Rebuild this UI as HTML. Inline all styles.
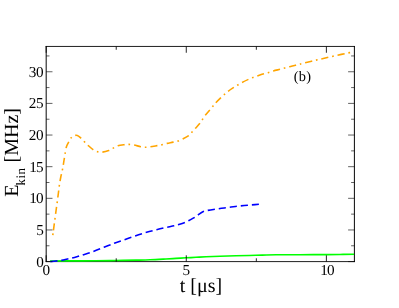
<!DOCTYPE html>
<html><head><meta charset="utf-8"><title>E_kin vs t (b)</title>
<style>
html,body{margin:0;padding:0;background:#fff;}
body{width:399px;height:308px;overflow:hidden;position:relative;font-family:"Liberation Serif",serif;}
svg{display:block}
</style></head><body>
<svg width="399" height="308" viewBox="0 0 399 308" style="position:absolute;left:0;top:0">
<rect width="399" height="308" fill="#fff"/>
<filter id="gs" x="0" y="0" width="399" height="308" filterUnits="userSpaceOnUse" color-interpolation-filters="sRGB"><feColorMatrix type="saturate" values="0"/></filter>
<path d="M46.18,46.00 V262.05 M354.40,46.00 V262.05" stroke="#000" fill="none" stroke-width="0.98"/>
<path d="M45.69,46.45 H354.89 M45.69,261.60 H354.89" stroke="#000" fill="none" stroke-width="0.88"/>
<clipPath id="c"><rect x="46.18" y="46.45" width="307.87" height="216.35"/></clipPath>
<g clip-path="url(#c)" fill="none" stroke-linejoin="round">
<path d="M50.00,260.95 C53.33,260.94 62.33,260.93 70.00,260.90 C77.67,260.87 88.33,260.82 96.00,260.75 C103.67,260.68 109.33,260.60 116.00,260.50 C122.67,260.40 130.33,260.27 136.00,260.15 C141.67,260.03 145.00,259.99 150.00,259.80 C155.00,259.61 161.67,259.23 166.00,259.00 C170.33,258.77 172.67,258.60 176.00,258.40 C179.33,258.20 182.67,257.98 186.00,257.80 C189.33,257.62 192.67,257.47 196.00,257.30 C199.33,257.13 202.00,256.97 206.00,256.80 C210.00,256.63 215.00,256.47 220.00,256.30 C225.00,256.13 230.00,255.97 236.00,255.80 C242.00,255.63 249.33,255.47 256.00,255.30 C262.67,255.13 268.67,254.90 276.00,254.80 C283.33,254.70 292.67,254.73 300.00,254.70 C307.33,254.67 313.33,254.64 320.00,254.60 C326.67,254.56 334.17,254.52 340.00,254.45 C345.83,254.38 352.50,254.24 355.00,254.20" stroke="#00ff00" stroke-width="1.65"/>
<path d="M50.20,261.60 C51.38,261.48 55.50,261.10 57.30,260.90 C59.10,260.70 59.12,260.75 61.00,260.40 C62.88,260.05 66.82,259.17 68.60,258.80 C70.38,258.43 69.93,258.67 71.70,258.20 C73.47,257.73 77.43,256.53 79.20,256.00 C80.97,255.47 80.52,255.53 82.30,255.00 C84.08,254.47 88.08,253.38 89.90,252.80 C91.72,252.22 91.47,252.18 93.20,251.50 C94.93,250.82 98.50,249.42 100.30,248.70 C102.10,247.98 102.13,247.93 104.00,247.20 C105.87,246.47 109.67,245.00 111.50,244.30 C113.33,243.60 113.45,243.55 115.00,243.00 C116.55,242.45 119.27,241.53 120.80,241.00 C122.33,240.47 122.45,240.42 124.20,239.80 C125.95,239.18 129.50,237.92 131.30,237.30 C133.10,236.68 133.17,236.72 135.00,236.10 C136.83,235.48 140.53,234.18 142.30,233.60 C144.07,233.02 143.85,233.10 145.60,232.60 C147.35,232.10 150.98,231.08 152.80,230.60 C154.62,230.12 154.70,230.13 156.50,229.70 C158.30,229.27 161.78,228.42 163.60,228.00 C165.42,227.58 165.65,227.57 167.40,227.20 C169.15,226.83 172.42,226.18 174.10,225.80 C175.78,225.42 175.68,225.45 177.50,224.90 C179.32,224.35 183.20,223.17 185.00,222.50 C186.80,221.83 186.67,221.77 188.30,220.90 C189.93,220.03 193.22,218.28 194.80,217.30 C196.38,216.32 196.30,216.00 197.80,215.00 C199.30,214.00 202.17,212.07 203.80,211.30 C205.43,210.53 205.72,210.75 207.60,210.40 C209.48,210.05 213.22,209.48 215.10,209.20 C216.98,208.92 217.12,208.95 218.90,208.70 C220.68,208.45 224.02,207.93 225.80,207.70 C227.58,207.47 227.77,207.53 229.60,207.30 C231.43,207.07 234.97,206.53 236.80,206.30 C238.63,206.07 238.77,206.08 240.60,205.90 C242.43,205.72 245.93,205.37 247.80,205.20 C249.67,205.03 249.95,205.05 251.80,204.90 C253.65,204.75 257.72,204.40 258.90,204.30" stroke="#0000ff" stroke-width="1.6" stroke-dasharray="7.1 4.01" stroke-dashoffset="-0.17"/>
<path d="M52.93,234.25 C53.11,232.88 53.64,228.74 54.00,226.00 C54.36,223.26 54.73,220.55 55.10,217.80 C55.47,215.05 55.83,212.20 56.20,209.50 C56.57,206.80 56.93,204.35 57.30,201.60 C57.67,198.85 58.05,195.77 58.40,193.00 C58.75,190.23 59.00,187.67 59.40,185.00 C59.80,182.33 60.27,179.68 60.80,177.00 C61.33,174.32 62.08,171.57 62.60,168.90 C63.12,166.23 63.45,163.75 63.90,161.00 C64.35,158.25 64.85,154.87 65.30,152.40 C65.75,149.93 65.97,148.03 66.60,146.20 C67.23,144.37 68.27,142.90 69.10,141.40 C69.93,139.90 70.82,138.13 71.60,137.20 C72.38,136.27 73.03,136.12 73.80,135.80 C74.57,135.48 75.42,135.25 76.20,135.30 C76.98,135.35 77.75,135.67 78.50,136.10 C79.25,136.53 79.70,136.93 80.70,137.90 C81.70,138.87 83.28,140.67 84.50,141.90 C85.72,143.13 86.57,144.02 88.00,145.30 C89.43,146.58 91.50,148.53 93.10,149.60 C94.70,150.67 96.10,151.27 97.60,151.70 C99.10,152.13 100.25,152.38 102.10,152.20 C103.95,152.02 106.85,151.28 108.70,150.60 C110.55,149.92 111.68,148.90 113.20,148.10 C114.72,147.30 115.97,146.37 117.80,145.80 C119.63,145.23 122.33,144.93 124.20,144.70 C126.07,144.47 127.35,144.35 129.00,144.40 C130.65,144.45 132.15,144.62 134.10,145.00 C136.05,145.38 138.80,146.33 140.70,146.70 C142.60,147.07 143.92,147.18 145.50,147.20 C147.08,147.22 148.27,147.07 150.20,146.80 C152.13,146.53 155.13,145.95 157.10,145.60 C159.07,145.25 160.33,145.07 162.00,144.70 C163.67,144.33 165.25,143.83 167.10,143.40 C168.95,142.97 171.25,142.52 173.10,142.10 C174.95,141.68 176.58,141.42 178.20,140.90 C179.82,140.38 181.05,139.87 182.80,139.00 C184.55,138.13 187.15,136.87 188.70,135.70 C190.25,134.53 190.97,133.25 192.10,132.00 C193.23,130.75 194.23,129.60 195.50,128.20 C196.77,126.80 198.52,125.10 199.70,123.60 C200.88,122.10 201.68,120.57 202.60,119.20 C203.52,117.83 203.97,116.97 205.20,115.40 C206.43,113.83 208.68,111.38 210.00,109.80 C211.32,108.22 212.18,107.03 213.10,105.90 C214.02,104.77 214.13,104.45 215.50,103.00 C216.87,101.55 219.75,98.67 221.30,97.20 C222.85,95.73 223.67,95.18 224.80,94.20 C225.93,93.22 226.73,92.35 228.10,91.30 C229.47,90.25 231.47,88.90 233.00,87.90 C234.53,86.90 235.83,86.18 237.30,85.30 C238.77,84.42 239.92,83.60 241.80,82.60 C243.68,81.60 246.73,80.15 248.60,79.30 C250.47,78.45 251.55,78.07 253.00,77.50 C254.45,76.93 255.48,76.53 257.30,75.90 C259.12,75.27 262.00,74.28 263.90,73.70 C265.80,73.12 267.12,72.87 268.70,72.40 C270.28,71.93 271.45,71.43 273.40,70.90 C275.35,70.37 278.50,69.68 280.40,69.20 C282.30,68.72 283.25,68.42 284.80,68.00 C286.35,67.58 287.90,67.17 289.70,66.70 C291.50,66.23 293.97,65.62 295.60,65.20 C297.23,64.78 298.28,64.50 299.50,64.20 C300.72,63.90 300.90,63.90 302.90,63.40 C304.90,62.90 309.30,61.75 311.50,61.20 C313.70,60.65 314.67,60.43 316.10,60.10 C317.53,59.77 318.07,59.67 320.10,59.20 C322.13,58.73 326.15,57.80 328.30,57.30 C330.45,56.80 331.53,56.53 333.00,56.20 C334.47,55.87 335.03,55.75 337.10,55.30 C339.17,54.85 343.28,53.95 345.40,53.50 C347.52,53.05 348.93,52.78 349.80,52.60 C350.67,52.42 350.47,52.43 350.60,52.40" stroke="#ffa500" stroke-width="1.6" stroke-dasharray="7.0 3.9 1.7 4.0" stroke-dashoffset="12.7"/>
<path d="M52.82,235.05 L53.04,233.35" stroke="#ffa500" stroke-width="1.6"/>
</g>
<g stroke="#000" fill="none">
<path d="M46.18,261.60 v-6.30 M46.18,46.45 v6.30 M116.23,261.60 v-3.30 M116.23,46.45 v3.30 M186.28,261.60 v-6.30 M186.28,46.45 v6.30 M256.33,261.60 v-3.30 M256.33,46.45 v3.30 M326.38,261.60 v-6.30 M326.38,46.45 v6.30" stroke-width="0.85"/>
<path d="M46.18,261.60 h6.30 M354.40,261.60 h-6.30 M46.18,245.78 h3.30 M354.40,245.78 h-3.30 M46.18,229.96 h6.30 M354.40,229.96 h-6.30 M46.18,214.14 h3.30 M354.40,214.14 h-3.30 M46.18,198.32 h6.30 M354.40,198.32 h-6.30 M46.18,182.50 h3.30 M354.40,182.50 h-3.30 M46.18,166.68 h6.30 M354.40,166.68 h-6.30 M46.18,150.86 h3.30 M354.40,150.86 h-3.30 M46.18,135.04 h6.30 M354.40,135.04 h-6.30 M46.18,119.22 h3.30 M354.40,119.22 h-3.30 M46.18,103.40 h6.30 M354.40,103.40 h-6.30 M46.18,87.58 h3.30 M354.40,87.58 h-3.30 M46.18,71.76 h6.30 M354.40,71.76 h-6.30 M46.18,55.94 h3.30 M354.40,55.94 h-3.30" stroke-width="0.62"/>
</g>
<g font-family="'Liberation Serif', serif" fill="#000" style="text-rendering:geometricPrecision" filter="url(#gs)">
<text x="43.75" y="267.30" font-size="15.2" text-anchor="end">0</text>
<text x="43.75" y="234.96" font-size="15.2" text-anchor="end">5</text>
<text x="42.65" y="203.32" font-size="15.2" text-anchor="end" letter-spacing="-0.85">10</text>
<text x="42.65" y="171.68" font-size="15.2" text-anchor="end" letter-spacing="-0.85">15</text>
<text x="43.45" y="140.04" font-size="15.2" text-anchor="end" letter-spacing="-0.25">20</text>
<text x="43.45" y="108.40" font-size="15.2" text-anchor="end" letter-spacing="-0.25">25</text>
<text x="43.45" y="76.76" font-size="15.2" text-anchor="end" letter-spacing="-0.25">30</text>
<text x="46.18" y="275.00" font-size="15.2" text-anchor="middle">0</text>
<text x="186.28" y="275.00" font-size="15.2" text-anchor="middle">5</text>
<text x="326.98" y="275.00" font-size="15.2" text-anchor="middle" letter-spacing="-0.85">10</text>
<text x="201" y="291.6" font-size="20" text-anchor="middle">t [μs]</text>
<text x="293.75" y="80.8" font-size="14.4" letter-spacing="0.25">(b)</text>
<g transform="translate(17.9,196.8) rotate(-90)"><text x="0" y="0" font-size="20">E<tspan font-size="13" dx="-0.8" dy="6.9" letter-spacing="0.45">kin</tspan><tspan font-size="20" dy="-6.9"> [MHz]</tspan></text></g>
</g>
</svg>
</body></html>
